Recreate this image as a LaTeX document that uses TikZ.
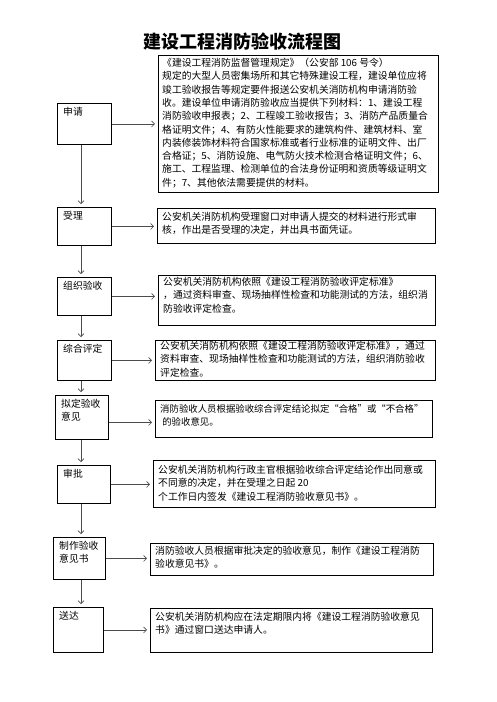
\documentclass[tikz,border=0pt]{standalone}
\usepackage{fontspec}
\setmainfont{Noto Sans CJK SC}
\usetikzlibrary{arrows.meta}
\tikzset{
	stagebox/.style={draw, line width=.9pt, anchor=north west, inner sep=0pt},
	stagetext/.style={anchor=north west, align=left, inner xsep=5pt, inner ysep=4pt, font=\fontsize{9.8}{13.3}\selectfont},
	flow/.style={-{Straight Barb[length=3pt,width=6pt]}, line width=.6pt, black!70, shorten >=3pt}
}
\begin{document}
\begin{tikzpicture}[x=1pt, y=-1pt]
		\useasboundingbox (0,0) rectangle (496,702);
		\node (title) at (242,42) {\fontsize{18}{18}\selectfont\bfseries 建设工程消防验收流程图};
		\coordinate (axis) at (81,0);
		% steps
		\node[stagebox, minimum width=54, minimum height=41, label={[stagetext, inner xsep=6pt]north west:申请}] (apply) at (57,103) {};
		\node[stagebox, minimum width=54, minimum height=38, label={[stagetext, inner xsep=6pt]north west:受理}] (accept) at (57,207) {};
		\node[stagebox, minimum width=54, minimum height=38, label={[stagetext, inner xsep=6pt]north west:组织验收}] (organize) at (57,277) {};
		\node[stagebox, minimum width=54, minimum height=40, label={[stagetext, inner xsep=6pt]north west:综合评定}] (assess) at (57,340) {};
		\node[stagebox, minimum width=53, minimum height=44, label={[stagetext, inner xsep=6pt]north west:拟定验收\\意见}] (draft) at (55,395) {};
		\node[stagebox, minimum width=53, minimum height=38, label={[stagetext, inner xsep=6pt]north west:审批}] (approve) at (57,465) {};
		\node[stagebox, minimum width=52, minimum height=42, label={[stagetext, inner xsep=6pt]north west:制作验收\\意见书}] (issue) at (53,537) {};
		\node[stagebox, minimum width=50, minimum height=45, label={[stagetext, inner xsep=6pt]north west:送达}] (deliver) at (53,607) {};
		% descriptions
		\node[stagebox, minimum width=280, minimum height=137, label={[stagetext, inner xsep=4pt, inner ysep=3pt]north west:《建设工程消防监督管理规定》（公安部 106 号令）\\规定的大型人员密集场所和其它特殊建设工程，建设单位应将\\竣工验收报告等规定要件报送公安机关消防机构申请消防验\\收。建设单位申请消防验收应当提供下列材料：1、建设工程\\消防验收申报表；2、工程竣工验收报告；3、消防产品质量合\\格证明文件；4、有防火性能要求的建筑构件、建筑材料、室\\内装修装饰材料符合国家标准或者行业标准的证明文件、出厂\\合格证；5、消防设施、电气防火技术检测合格证明文件；6、\\施工、工程监理、检测单位的合法身份证明和资质等级证明文\\件；7、其他依法需要提供的材料。}] (law) at (158,55) {};
		\node[stagebox, minimum width=278, minimum height=35, label={[stagetext]north west:公安机关消防机构受理窗口对申请人提交的材料进行形式审\\核，作出是否受理的决定，并出具书面凭证。}] (check) at (157,208) {};
		\node[stagebox, minimum width=277, minimum height=50, label={[stagetext, inner ysep=2pt]north west:公安机关消防机构依照《建设工程消防验收评定标准》\\，通过资料审查、现场抽样性检查和功能测试的方法，组织消\\防验收评定检查。}] (test) at (158,275) {};
		\node[stagebox, minimum width=280, minimum height=40, label={[stagetext, inner ysep=1pt]north west:公安机关消防机构依照《建设工程消防验收评定标准》，通过\\资料审查、现场抽样性检查和功能测试的方法，组织消防验收\\评定检查。}] (rate) at (155,340) {};
		\node[stagebox, minimum width=277, minimum height=37, label={[stagetext, font=\fontsize{9.4}{13.3}\selectfont]north west:消防验收人员根据验收综合评定结论拟定“合格”或“不合格”\\\ 的验收意见。}] (opinion) at (155,400) {};
		\node[stagebox, minimum width=282, minimum height=47, label={[stagetext, inner ysep=5pt]north west:公安机关消防机构行政主官根据验收综合评定结论作出同意或\\不同意的决定，并在受理之日起 20\\个工作日内签发《建设工程消防验收意见书》。}] (decide) at (153,460) {};
		\node[stagebox, minimum width=283, minimum height=32, label={[stagetext, inner ysep=3pt]north west:消防验收人员根据审批决定的验收意见，制作《建设工程消防\\验收意见书》。}] (write) at (150,543) {};
		\node[stagebox, minimum width=282, minimum height=44, label={[stagetext]north west:公安机关消防机构应在法定期限内将《建设工程消防验收意见\\书》通过窗口送达申请人。}] (send) at (150,608) {};
		% connectors
		\draw[flow] (apply.south -| axis) -- (accept.north -| axis);
		\draw[flow] (accept.south -| axis) -- (organize.north -| axis);
		\draw[flow] (organize.south -| axis) -- (assess.north -| axis);
		\draw[flow] (assess.south -| axis) -- (draft.north -| axis);
		\draw[flow] (draft.south -| axis) -- (approve.north -| axis);
		\draw[flow] (approve.south -| axis) -- (issue.north -| axis);
		\draw[flow] (issue.south -| axis) -- (deliver.north -| axis);
		\draw[flow] (apply.east) -- (apply.east -| law.west);
		\draw[flow] (accept.east) -- (accept.east -| check.west);
		\draw[flow] (organize.east) -- (organize.east -| test.west);
		\draw[flow] (assess.east) -- (assess.east -| rate.west);
		\draw[flow] ([yshift=-5pt]draft.east) -- ([yshift=-5pt]draft.east -| opinion.west);
		\draw[flow] (approve.east) -- (approve.east -| decide.west);
		\draw[flow] (issue.east) -- (issue.east -| write.west);
		\draw[flow] (deliver.east) -- (deliver.east -| send.west);
	\end{tikzpicture}
\end{document}
